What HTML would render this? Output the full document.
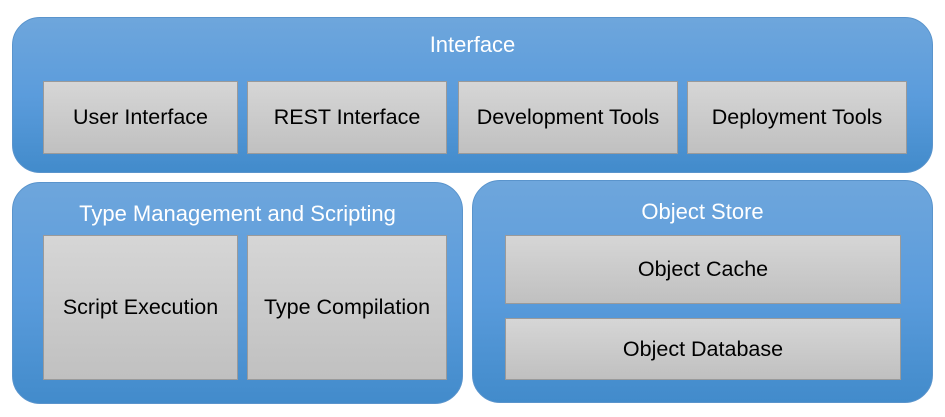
<!DOCTYPE html>
<html><head><style>
body{margin:0;width:945px;height:417px;background:#fff;position:relative;font-family:"Liberation Sans",sans-serif;overflow:hidden}
.c{position:absolute;border-radius:28px;background:linear-gradient(#6ea6dc,#5b9cdc 50%,#428bcb);border:1px solid #5a94cc;box-sizing:border-box}
.t{position:absolute;left:0;right:0;text-align:center;color:#fff;font-size:22px}
.b{position:absolute;box-sizing:border-box;border:1px solid #9a9a9a;background:linear-gradient(#d6d6d6,#c0c0c0);display:flex;align-items:center;justify-content:center;font-size:21.5px;color:#000}
</style></head><body>
<div class="c" style="left:12px;top:17px;width:921px;height:156px"><div class="t" style="top:14px">Interface</div></div>
<div class="b" style="left:43px;top:81px;width:195px;height:73px">User Interface</div>
<div class="b" style="left:247px;top:81px;width:200px;height:73px">REST Interface</div>
<div class="b" style="left:458px;top:81px;width:220px;height:73px">Development Tools</div>
<div class="b" style="left:687px;top:81px;width:220px;height:73px">Deployment Tools</div>
<div class="c" style="left:12px;top:182px;width:451px;height:222px"><div class="t" style="top:18px">Type Management and Scripting</div></div>
<div class="b" style="left:43px;top:235px;width:195px;height:145px">Script Execution</div>
<div class="b" style="left:247px;top:235px;width:200px;height:145px">Type Compilation</div>
<div class="c" style="left:472px;top:180px;width:461px;height:223px"><div class="t" style="top:18px">Object Store</div></div>
<div class="b" style="left:505px;top:235px;width:396px;height:69px">Object Cache</div>
<div class="b" style="left:505px;top:318px;width:396px;height:62px">Object Database</div>
</body></html>
